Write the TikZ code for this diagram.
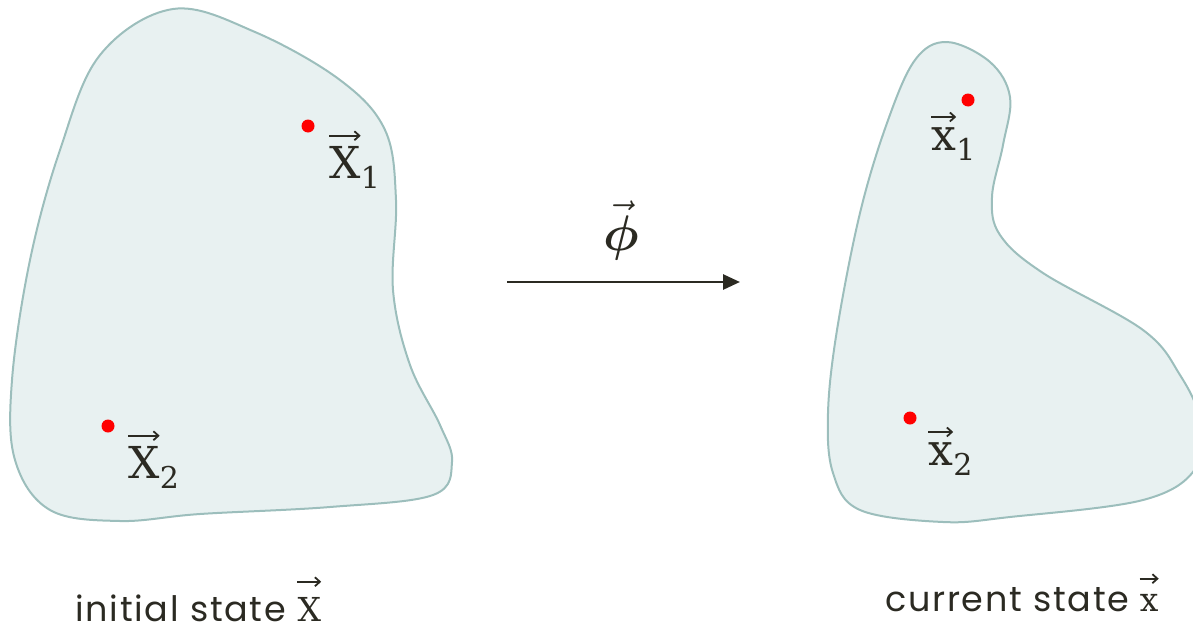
\RequirePackage{fix-cm}
\documentclass[tikz,border=0pt]{standalone}
\usepackage{amsmath}
\usepackage{fontspec}
\setsansfont{Poppins}[LetterSpace=5]
\newfontfamily\letterfont{DejaVu Serif}
\usepackage{tikz}
\usetikzlibrary{arrows.meta,positioning}
\definecolor{ink}{HTML}{2B2A22}
\definecolor{shade}{HTML}{E8F1F1}
\definecolor{rim}{HTML}{9CBEBC}
\definecolor{dotred}{HTML}{FF0000}
\tikzset{
  region/.style={draw=rim,fill=shade,line width=2pt},
  pin/.style={circle,fill=dotred,inner sep=0pt,minimum size=13pt},
  vecletter/.style={text=ink,inner sep=0pt,anchor=base west,font=\letterfont\fontsize{44}{48}\selectfont},
  vecsub/.style={text=ink,inner sep=0pt,anchor=base west,font=\letterfont\fontsize{30}{33}\selectfont},
  capletter/.style={text=ink,inner sep=0pt,font=\letterfont\fontsize{33}{36}\selectfont},
  caption/.style={text=ink,inner sep=0pt,anchor=base west,font=\sffamily\fontsize{35}{40}\selectfont},
  hat/.style={-{Straight Barb[length=5pt,width=9pt]},line width=1.8pt,draw=ink},
  arr/.style={-{Triangle[length=17pt,width=15pt]},line width=2.8pt,draw=ink}
}

\begin{document}
\begin{tikzpicture}[x=1pt,y=-1pt]
 \useasboundingbox (0,0) rectangle (1193,629);
 % initial configuration
 \draw[region] plot[smooth cycle,tension=0.6] coordinates {
   (173,9) (255,32) (340,80) (385,130) (396,200) (393,290) (410,365)
   (440,425) (452,462) (433,495) (330,507) (200,514) (120,521) (50,510)
   (15,460) (12,380) (30,260) (60,150) (100,55)};
 % current configuration
 \begin{scope}
  \clip (0,0) rectangle (1193,629);
  \draw[region] plot[smooth cycle,tension=0.6] coordinates {
    (947,42) (990,62) (1010,97) (1003,145) (992,197) (1000,235) (1043,273)
    (1143,330) (1180,375) (1200,420) (1196,468) (1143,500) (1010,517)
    (943,522) (860,510) (833,473) (828,413) (837,330) (860,213) (887,123)
    (915,60)};
 \end{scope}
 % material points
 \node[pin] (X1) at (308,126) {};
 \node[pin] (X2) at (108,426) {};
 \node[pin] (x1) at (968,100) {};
 \node[pin] (x2) at (910,418) {};
 \node[vecletter] (X1l) at (329,178) {X};
 \node[vecsub] (X1s) at ([yshift=-10pt]X1l.base east) {1};
 \node[vecletter] (X2l) at (128,478) {X};
 \node[vecsub] (X2s) at ([yshift=-10pt]X2l.base east) {2};
 \node[vecletter] (x1l) at (931,150) {x};
 \node[vecsub] (x1s) at ([yshift=-10pt]x1l.base east) {1};
 \node[vecletter] (x2l) at (928,465) {x};
 \node[vecsub] (x2s) at ([yshift=-10pt]x2l.base east) {2};
 \foreach \n in {X1l,X2l,x1l,x2l}
   \draw[hat] ([yshift=10pt]\n.north west) -- ([yshift=10pt]\n.north east);
 % mapping
 \coordinate (src) at (507,282);
 \coordinate (dst) at (740,282);
 \draw[arr] (src) -- (dst);
 \node[text=ink,inner sep=0pt,anchor=base,font=\fontsize{50}{54}\selectfont] (phi) at (621,250) {$\vec{\boldsymbol{\phi}}$};
 % captions
 \node[caption] (init) at (75,621) {initial state};
 \node[capletter,base right=11pt of init] (initX) {X};
 \node[caption] (curr) at (885,611) {current state};
 \node[capletter,base right=10pt of curr] (currx) {x};
 \foreach \n in {initX,currx}
   \draw[hat] ([yshift=15pt]\n.north west) -- ([yshift=15pt]\n.north east);
\end{tikzpicture}
\end{document}
